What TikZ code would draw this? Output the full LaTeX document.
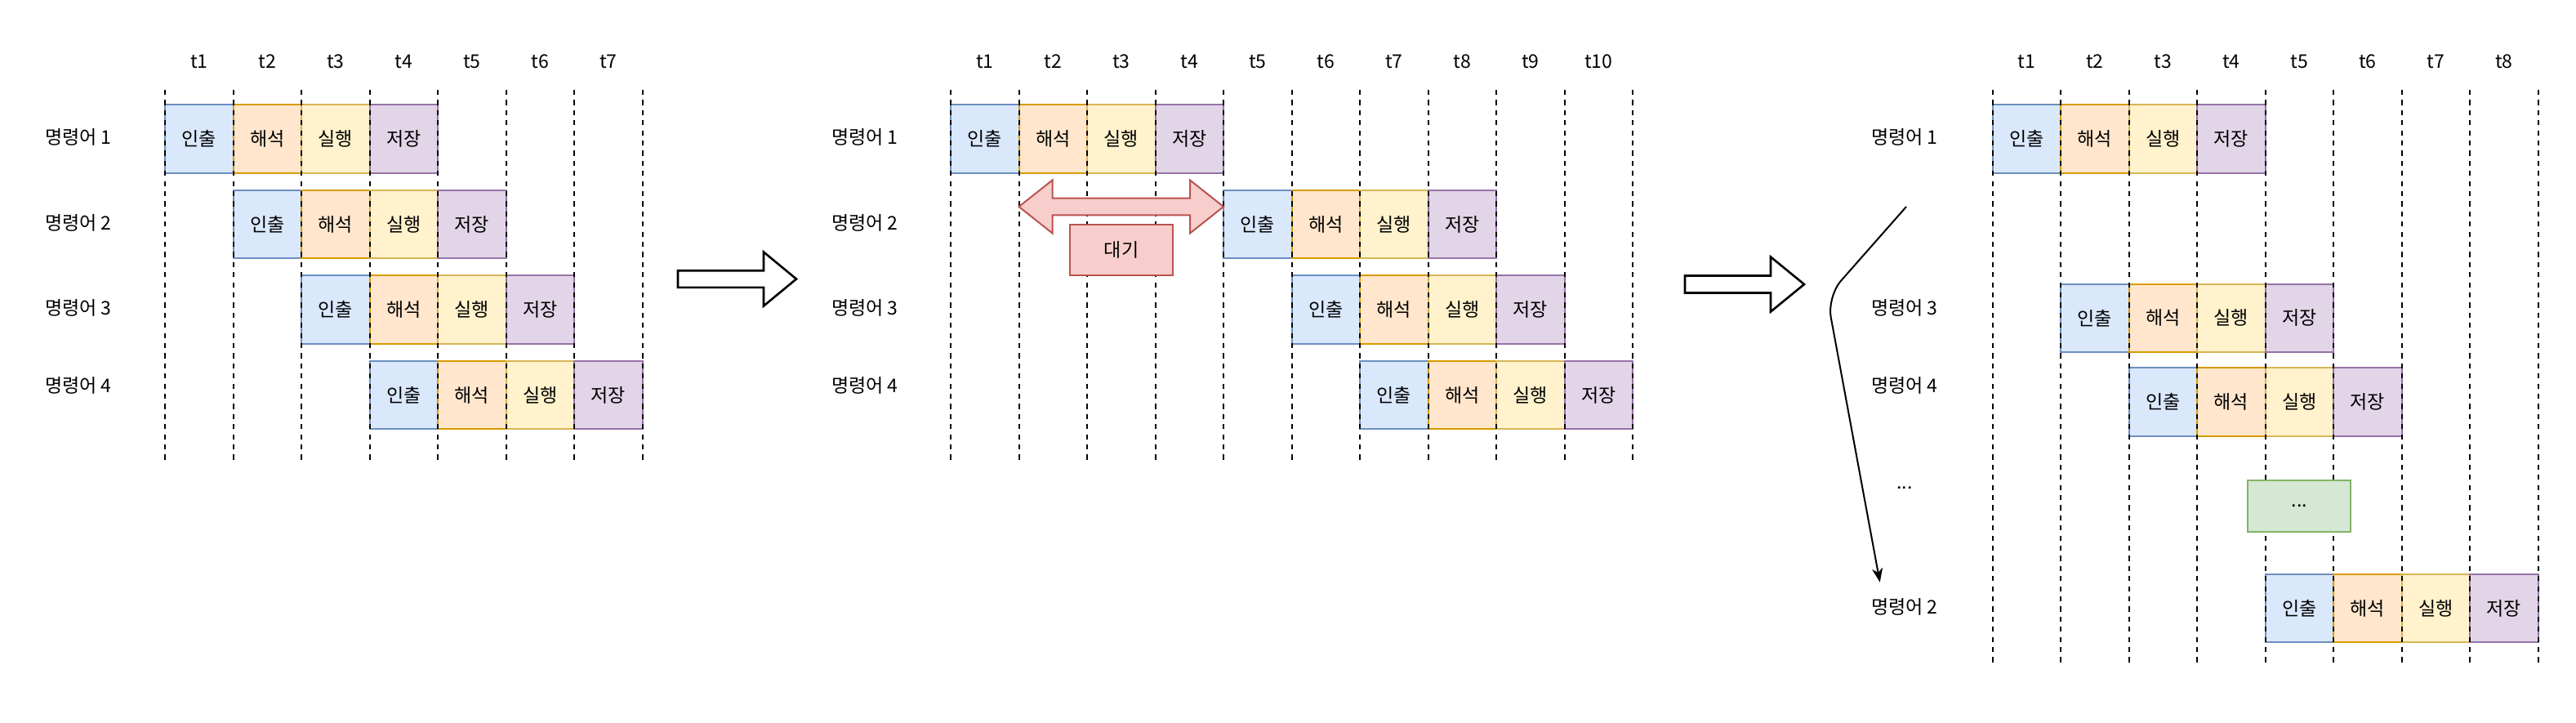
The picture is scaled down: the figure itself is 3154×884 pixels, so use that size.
\documentclass[tikz,border=0pt]{standalone}
\usepackage{fontspec}
\setmainfont{Noto Sans CJK KR}
\usetikzlibrary{positioning,arrows.meta}

\definecolor{fetchfill}{HTML}{DAE8FC}
\definecolor{fetchline}{HTML}{6C8EBF}
\definecolor{decodefill}{HTML}{FFE6CC}
\definecolor{decodeline}{HTML}{D79B00}
\definecolor{execfill}{HTML}{FFF2CC}
\definecolor{execline}{HTML}{D6B656}
\definecolor{storefill}{HTML}{E1D5E7}
\definecolor{storeline}{HTML}{9673A6}
\definecolor{waitfill}{HTML}{F8CECC}
\definecolor{waitline}{HTML}{B85450}
\definecolor{morefill}{HTML}{D5E8D4}
\definecolor{moreline}{HTML}{82B366}

% one instruction: fetch, decode, execute, store
\newcommand{\stagerow}[3]{%
	\node[fetch] (#1f) at (#2,#3) {인출};
	\node[decode, right=0pt of #1f] (#1d) {해석};
	\node[exec, right=0pt of #1d] (#1e) {실행};
	\node[store, right=0pt of #1e] (#1s) {저장};
}

\begin{document}
\begin{tikzpicture}[x=0.5pt, y=-0.5pt,
		every node/.style={font=\fontsize{11.5}{13}\selectfont},
		stage/.style={rectangle, draw, line width=1pt, minimum width=41.75pt, minimum height=41.75pt, inner sep=0pt, outer sep=0pt},
		fetch/.style={stage, fill=fetchfill, draw=fetchline},
		decode/.style={stage, fill=decodefill, draw=decodeline},
		exec/.style={stage, fill=execfill, draw=execline},
		store/.style={stage, fill=storefill, draw=storeline},
		tick/.style={dash pattern=on 3.1pt off 3.1pt, line width=1pt},
		bigarrow/.style={draw, line width=1.3pt, fill=white, line join=miter}]

		\useasboundingbox (0,0) rectangle (3154,884);

		% left: ideal pipeline
		\stagerow{aI}{243.75}{170}
		\stagerow{aII}{327.25}{274.5}
		\stagerow{aIII}{410.75}{379}
		\stagerow{aIV}{494.25}{483.5}
		\foreach \k in {0,...,7} \draw[tick] (202+\k*83.5,110) -- (202+\k*83.5,567);
		\foreach \k in {1,...,7} \node (at\k) at (160.25+\k*83.5,75) {t\k};
		\node (alab1) at (96,168) {명령어 1};
		\node (alab2) at (96,273) {명령어 2};
		\node (alab3) at (96,377) {명령어 3};
		\node (alab4) at (96,472) {명령어 4};

		\draw[bigarrow] (830,331.2) -- (935,331.2) -- (935,308.5) -- (975,341.5) -- (935,374.5) -- (935,351.8) -- (830,351.8) -- cycle;

		% middle: instruction 2 has to wait
		\stagerow{bI}{1205.75}{170}
		\stagerow{bII}{1539.75}{274.5}
		\stagerow{bIII}{1623.25}{379}
		\stagerow{bIV}{1706.75}{483.5}
		\foreach \k in {0,...,10} \draw[tick] (1164+\k*83.5,110) -- (1164+\k*83.5,567);
		\foreach \k in {1,...,10} \node (bt\k) at (1122.25+\k*83.5,75) {t\k};
		\node (blab1) at (1059,168) {명령어 1};
		\node (blab2) at (1059,273) {명령어 2};
		\node (blab3) at (1059,377) {명령어 3};
		\node (blab4) at (1059,472) {명령어 4};

		\draw[fill=waitfill, draw=waitline, line width=1pt] (1247.5,253) -- (1288.5,220.5) -- (1288.5,242.7) -- (1457,242.7) -- (1457,220.5) -- (1498,253) -- (1457,285.5) -- (1457,263.3) -- (1288.5,263.3) -- (1288.5,285.5) -- cycle;
		\node (wait) [rectangle, draw=waitline, fill=waitfill, line width=1pt, minimum width=63pt, minimum height=31pt] at (1373,306) {대기};

		\draw[bigarrow] (2063,337.5) -- (2168,337.5) -- (2168,314.5) -- (2209,348) -- (2168,381.5) -- (2168,358.5) -- (2063,358.5) -- cycle;

		% right: instruction 2 moved to the end
		\stagerow{cI}{2481.25}{170}
		\stagerow{cIII}{2564.75}{389.3}
		\stagerow{cIV}{2648.25}{492}
		\stagerow{cII}{2815.25}{744.7}
		\foreach \k in {0,...,8} \draw[tick] (2439.5+\k*83.5,110) -- (2439.5+\k*83.5,813);
		\foreach \k in {1,...,8} \node (ct\k) at (2397.75+\k*83.5,75) {t\k};
		\node (clab1) at (2332,168) {명령어 1};
		\node (clab3) at (2332,376.7) {명령어 3};
		\node (clab4) at (2332,471.7) {명령어 4};
		\node (cdots) at (2332,597) {...};
		\node (clab2) at (2332,743.3) {명령어 2};

		\node (more) [rectangle, draw=moreline, fill=morefill, line width=1pt, minimum width=63pt, minimum height=31.2pt] at (2815.25,619.5) {...};

		\coordinate (movefrom) at (2334,253);
		\coordinate (moveto) at (2301.7,712.7);
		\draw[-{Stealth[length=8.5pt, width=6.5pt, inset=2.5pt]}, line width=1pt, rounded corners=13pt] (movefrom) -- (2237,363) -- (moveto);

	\end{tikzpicture}
\end{document}
